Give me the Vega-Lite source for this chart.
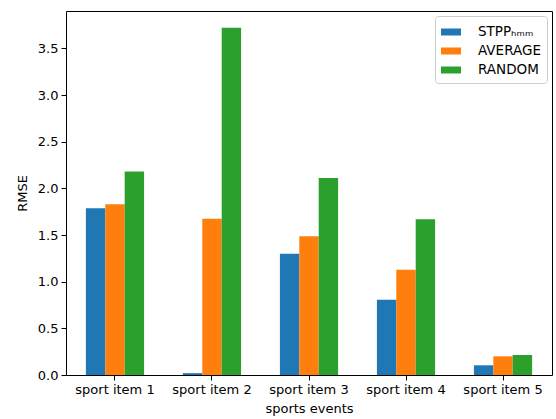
{
  "$schema": "https://vega.github.io/schema/vega-lite/v6.json",
  "autosize": {"type": "none"},
  "padding": {"left": 66, "top": 11, "right": 4, "bottom": 44},
  "width": 486,
  "height": 364,
  "data": {"values": [
    {"event": "sport item 1", "method": "STPPₕₘₘ", "rmse": 1.787},
    {"event": "sport item 1", "method": "AVERAGE", "rmse": 1.83},
    {"event": "sport item 1", "method": "RANDOM", "rmse": 2.18},
    {"event": "sport item 2", "method": "STPPₕₘₘ", "rmse": 0.02},
    {"event": "sport item 2", "method": "AVERAGE", "rmse": 1.675},
    {"event": "sport item 2", "method": "RANDOM", "rmse": 3.72},
    {"event": "sport item 3", "method": "STPPₕₘₘ", "rmse": 1.30},
    {"event": "sport item 3", "method": "AVERAGE", "rmse": 1.487},
    {"event": "sport item 3", "method": "RANDOM", "rmse": 2.11},
    {"event": "sport item 4", "method": "STPPₕₘₘ", "rmse": 0.807},
    {"event": "sport item 4", "method": "AVERAGE", "rmse": 1.129},
    {"event": "sport item 4", "method": "RANDOM", "rmse": 1.669},
    {"event": "sport item 5", "method": "STPPₕₘₘ", "rmse": 0.104},
    {"event": "sport item 5", "method": "AVERAGE", "rmse": 0.20},
    {"event": "sport item 5", "method": "RANDOM", "rmse": 0.214}
  ]},
  "config": {
    "font": "DejaVu Sans",
    "view": {"stroke": "#000", "strokeWidth": 1},
    "axis": {
      "grid": false,
      "domain": false,
      "tickColor": "#000",
      "tickSize": 5,
      "labelColor": "#000",
      "labelFontSize": 13,
      "titleFontSize": 13,
      "titleColor": "#000",
      "titleFontWeight": "normal",
      "labelPadding": 3
    }
  },
  "mark": {"type": "bar"},
  "encoding": {
    "x": {
      "field": "event",
      "type": "nominal",
      "sort": null,
      "scale": {"paddingInner": 0.4, "paddingOuter": 0.205},
      "axis": {"title": "sports events", "labelAngle": 0, "titlePadding": 6}
    },
    "xOffset": {
      "field": "method",
      "type": "nominal",
      "sort": ["STPPₕₘₘ", "AVERAGE", "RANDOM"],
      "scale": {"paddingInner": 0, "paddingOuter": 0}
    },
    "y": {
      "field": "rmse",
      "type": "quantitative",
      "scale": {"domain": [0, 3.9], "nice": false},
      "axis": {"title": "RMSE", "values": [0, 0.5, 1, 1.5, 2, 2.5, 3, 3.5], "format": ".1f", "titlePadding": 8}
    },
    "color": {
      "field": "method",
      "type": "nominal",
      "scale": {"domain": ["STPPₕₘₘ", "AVERAGE", "RANDOM"], "range": ["#1f77b4", "#ff7f0e", "#2ca02c"]},
      "legend": {
        "title": null,
        "orient": "top-right",
        "offset": 5,
        "fillColor": "#fff",
        "strokeColor": "#cccccc",
        "cornerRadius": 3,
        "padding": 6,
        "labelFontSize": 13.5,
        "labelColor": "#000",
        "symbolType": "M-1,-0.35H1V0.35H-1Z",
        "symbolSize": 400,
        "symbolStrokeWidth": 0,
        "symbolOpacity": 1,
        "rowPadding": 2,
        "labelOffset": 17
      }
    }
  }
}
